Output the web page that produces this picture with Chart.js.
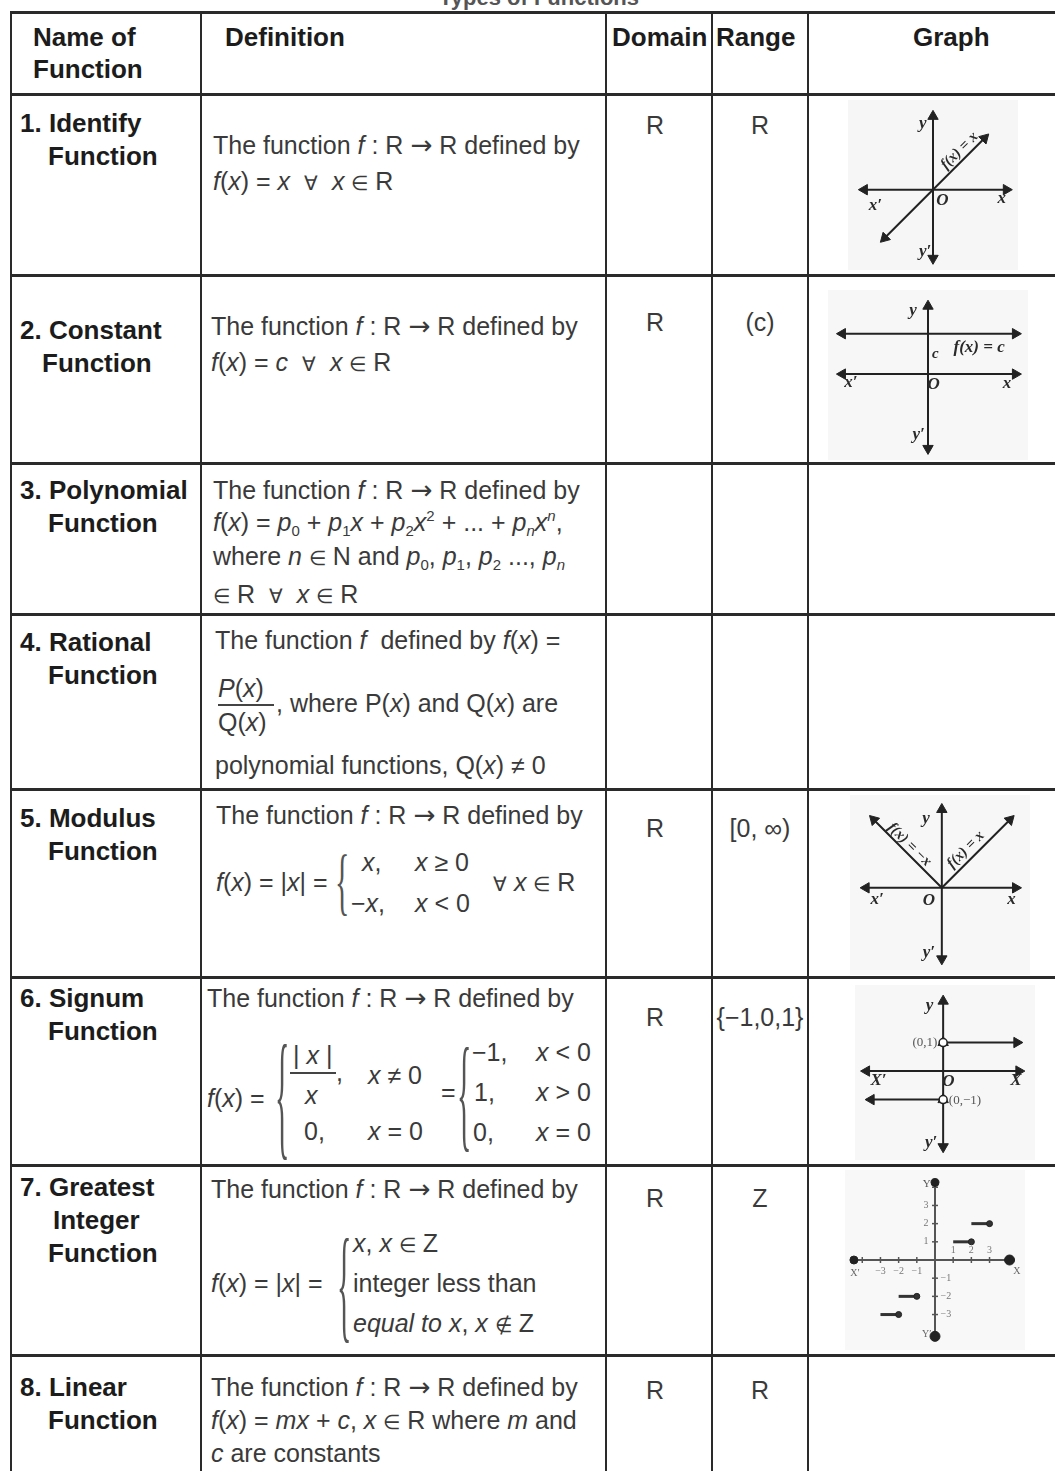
<!DOCTYPE html>
<html>
<head>
<meta charset="utf-8">
<script src="https://cdn.jsdelivr.net/npm/chart.js@4.4.0/dist/chart.umd.min.js"></script>
<style>
body{margin:0;background:#fff;}
#page{position:relative;width:1055px;height:1471px;overflow:hidden;background:#fff;font-family:"Liberation Sans",Arial,sans-serif;}
.t{position:absolute;white-space:nowrap;color:#3a3a3a;font-size:25px;line-height:30px;}
.h{position:absolute;white-space:nowrap;color:#1c1c1c;font-size:26px;font-weight:bold;line-height:30px;}
.c{text-align:center;}
.hl{position:absolute;background:#2a2a2a;height:3px;left:10px;width:1045px;}
.vl{position:absolute;background:#2a2a2a;width:2px;top:11px;height:1460px;}
.bar{position:absolute;background:#444;height:2px;}
.brace{position:absolute;font-family:"Liberation Serif",serif;color:#555;font-size:30px;line-height:30px;}
.ar{font-family:"DejaVu Sans",sans-serif;font-size:1.05em;}
.sm{font-size:0.8em;}
canvas{position:absolute;}
sub{font-size:0.6em;vertical-align:-0.35em;line-height:0;}
sup{font-size:0.6em;vertical-align:0.7em;line-height:0;}
</style>
</head>
<body>
<div id="page">
<div class="h" style="left:0;width:1078px;top:-17px;font-size:22px;text-align:center;color:#555;">Types of Functions</div>
</div>
<script>
// ---------- table content ----------
const headers = ["Name of|Function", "Definition", "Domain", "Range", "Graph"];
const functionNames = [
  ["1. Identify", "Function"],
  ["2. Constant", "Function"],
  ["3. Polynomial", "Function"],
  ["4. Rational", "Function"],
  ["5. Modulus", "Function"],
  ["6. Signum", "Function"],
  ["7. Greatest", "Integer", "Function"],
  ["8. Linear", "Function"]
];
const domains = ["R", "R", "", "", "R", "R", "R", "R"];
const ranges  = ["R", "(c)", "", "", "[0, \u221E)", "{\u22121,0,1}", "Z", "R"];

// ---------- graph data ----------
const identityX = [-3.1, 3.3];
const identityY = [-3.1, 3.3];
const constantX = [-4.6, 4.7];
const constantY = [2.2, 2.2];
const modulusX = [-4.1, 0, 4.1];
const modulusY = [4.1, 0, 4.1];
const signumUpperX = [0, 2.58];
const signumUpperY = [1, 1];
const signumLowerX = [0, -2.52];
const signumLowerY = [-1, -1];
const signumHoleX = [0, 0];
const signumHoleY = [1, -1];
const floorStart = [-3, -2, 1, 2];
const floorEnd   = [-2, -1, 2, 3];
const floorLevel = [-3, -2, 1, 2];
const floorTicksX = [-4, -3, -2, -1, 1, 2, 3];
const floorTicksY = [-3, -2, -1, 1, 2, 3, 4];

// ---------- layout ----------
const page = document.getElementById('page');
function put(x, cy, html, cls, style) {
  const d = document.createElement('div');
  d.className = cls || 't';
  d.style.left = x + 'px';
  d.style.top = (cy - 15) + 'px';
  if (style) d.style.cssText += style;
  d.innerHTML = html;
  page.appendChild(d);
  return d;
}
function box(cls, style) {
  const d = document.createElement('div');
  d.className = cls; d.style.cssText += style; page.appendChild(d);
}
function brace(x, cy, h) {
  const d = document.createElement('div');
  d.className = 'brace';
  d.style.left = x + 'px';
  d.style.top = (cy - 15) + 'px';
  d.style.transform = 'scaleY(' + (h / 27).toFixed(2) + ')';
  d.textContent = '{';
  page.appendChild(d);
}

// grid lines
[11, 93, 274, 462, 613, 788, 976, 1164, 1354].forEach(y => box('hl', 'top:' + y + 'px'));
[10, 200, 605, 711, 807].forEach(x => box('vl', 'left:' + x + 'px'));

// headers
put(33, 37, headers[0].split('|')[0], 'h');
put(33, 69, headers[0].split('|')[1], 'h');
put(225, 37, headers[1], 'h');
put(612, 37, headers[2], 'h');
put(716, 37, headers[3], 'h');
put(913, 37, headers[4], 'h');

// names
const nameTop = [123, 330, 490, 642, 818, 998, 1187, 1387];
const nameIndent = [[20, 48], [20, 42], [20, 48], [20, 48], [20, 48], [20, 48], [20, 53, 48], [20, 48]];
functionNames.forEach((lines, r) => {
  lines.forEach((s, k) => put(nameIndent[r][k], nameTop[r] + k * 33, s, 'h'));
});

// domain / range
const drTop = [125, 322, 0, 0, 828, 1017, 1198, 1390];
domains.forEach((s, r) => { if (s) put(606, drTop[r], s, 't c', 'width:98px;'); });
ranges.forEach((s, r) => { if (s) put(712, drTop[r], s, 't c', 'width:96px;'); });

// definitions
const IN = '<span class="sm">\u2208</span>', NIN = '<span class="sm">\u2209</span>', ALL = '<span class="sm">\u2200</span>';
const L1 = 'The function <i>f</i> : R <span class="ar">\u2192</span> R defined by';
const defs = [
  [213, 145, L1], [213, 181, '<i>f</i>(<i>x</i>) = <i>x</i> &nbsp;' + ALL + ' &nbsp;<i>x</i> ' + IN + ' R'],
  [211, 326, L1], [211, 362, '<i>f</i>(<i>x</i>) = <i>c</i> &nbsp;' + ALL + ' &nbsp;<i>x</i> ' + IN + ' R'],
  [213, 490, L1],
  [213, 522, '<i>f</i>(<i>x</i>) = <i>p</i><sub>0</sub> + <i>p</i><sub>1</sub><i>x</i> + <i>p</i><sub>2</sub><i>x</i><sup>2</sup> + ... + <i>p<sub>n</sub>x<sup>n</sup></i>,'],
  [213, 556, 'where <i>n</i> ' + IN + ' N and <i>p</i><sub>0</sub>, <i>p</i><sub>1</sub>, <i>p</i><sub>2</sub> ..., <i>p<sub>n</sub></i>'],
  [213, 594, IN + ' R &nbsp;' + ALL + ' &nbsp;<i>x</i> ' + IN + ' R'],
  [215, 640, 'The function <i>f</i> &nbsp;defined by <i>f</i>(<i>x</i>) ='],
  [218, 688, '<i>P</i>(<i>x</i>)'], [218, 722, 'Q(<i>x</i>)'],
  [276, 703, ', where P(<i>x</i>) and Q(<i>x</i>) are'],
  [215, 765, 'polynomial functions, Q(<i>x</i>) \u2260 0'],
  [216, 815, L1], [216, 882, '<i>f</i>(<i>x</i>) = |<i>x</i>| ='],
  [362, 862, '<i>x</i>,'], [415, 862, '<i>x</i> \u2265 0'],
  [351, 903, '\u2212<i>x</i>,'], [415, 903, '<i>x</i> &lt; 0'],
  [493, 882, ALL + ' <i>x</i> ' + IN + ' R'],
  [207, 998, L1], [207, 1098, '<i>f</i>(<i>x</i>) ='],
  [293, 1055, '| <i>x</i> |'], [305, 1095, '<i>x</i>'], [336, 1072, ','],
  [368, 1075, '<i>x</i> \u2260 0'], [304, 1131, '0,'], [368, 1131, '<i>x</i> = 0'],
  [441, 1092, '='],
  [472, 1052, '\u22121,'], [474, 1092, '1,'], [473, 1132, '0,'],
  [536, 1052, '<i>x</i> &lt; 0'], [536, 1092, '<i>x</i> &gt; 0'], [536, 1132, '<i>x</i> = 0'],
  [211, 1189, L1], [211, 1283, '<i>f</i>(<i>x</i>) = |<i>x</i>| ='],
  [353, 1243, '<i>x</i>, <i>x</i> ' + IN + ' Z'], [353, 1283, 'integer less than'],
  [353, 1323, '<i>equal to x</i>, <i>x</i> ' + NIN + ' Z'],
  [211, 1387, L1],
  [211, 1420, '<i>f</i>(<i>x</i>) = <i>mx</i> + <i>c</i>, <i>x</i> ' + IN + ' R where <i>m</i> and'],
  [211, 1453, '<i>c</i> are constants']
];
defs.forEach(d => put(d[0], d[1], d[2], 't'));
box('bar', 'left:218px;top:704px;width:56px;');
box('bar', 'left:290px;top:1072px;width:46px;');
brace(335, 882, 66);
brace(275, 1095, 125);
brace(457, 1092, 115);
brace(337, 1283, 115);

// ---------- charts ----------
const INK = '#222';
const pts = (xs, ys) => xs.map((x, i) => ({ x: x, y: ys[i] }));
function lineSet(xs, ys, opt) {
  return Object.assign({
    data: pts(xs, ys), showLine: true, borderColor: INK, borderWidth: 2,
    pointStyle: 'triangle', pointRadius: 0, pointRotation: 0,
    pointBackgroundColor: INK, pointBorderColor: INK, pointBorderWidth: 1, clip: false
  }, opt || {});
}
const labelPlugin = {
  id: 'glabels',
  afterDatasetsDraw(chart, args, opts) {
    const ctx = chart.ctx, sx = chart.scales.x, sy = chart.scales.y;
    (opts.items || []).forEach(it => {
      ctx.save();
      ctx.translate(sx.getPixelForValue(it.x), sy.getPixelForValue(it.y));
      if (it.rot) ctx.rotate(it.rot * Math.PI / 180);
      ctx.font = it.font || 'italic bold 17px "Liberation Serif"';
      ctx.fillStyle = it.color || '#2a2a2a';
      ctx.textAlign = it.align || 'center';
      ctx.textBaseline = 'middle';
      ctx.fillText(it.t, 0, 0);
      ctx.restore();
    });
  }
};
function makeGraph(left, top, w, h, xr, yr, datasets, items, bg) {
  const cv = document.createElement('canvas');
  cv.width = w; cv.height = h;
  cv.style.left = left + 'px'; cv.style.top = top + 'px';
  cv.style.width = w + 'px'; cv.style.height = h + 'px';
  cv.style.background = bg || '#f5f5f5';
  page.appendChild(cv);
  new Chart(cv, {
    type: 'scatter',
    data: { datasets: datasets },
    options: {
      responsive: false, animation: false, events: [],
      layout: { padding: 0 },
      plugins: { legend: { display: false }, tooltip: { enabled: false }, glabels: { items: items } },
      scales: {
        x: { type: 'linear', display: false, min: xr[0], max: xr[1] },
        y: { type: 'linear', display: false, min: yr[0], max: yr[1] }
      }
    },
    plugins: [labelPlugin]
  });
}
const arrowEnds = (r1, r2) => ({ pointRadius: [6, 6], pointRotation: [r1, r2] });
const LBL = 'italic bold 15px "Liberation Serif"';

// 1. identity
makeGraph(848, 100, 170, 170, [-5, 5], [-4.7, 5.3], [
  lineSet([-4.4, 4.7], [0, 0], arrowEnds(270, 90)),
  lineSet([0, 0], [4.7, -4.4], arrowEnds(0, 180)),
  lineSet(identityX, identityY, arrowEnds(225, 45))
], [
  { t: 'y', x: -0.65, y: 4.24 }, { t: 'x\u2032', x: -3.7, y: -1.0 },
  { t: 'O', x: 0.6, y: -0.7 }, { t: 'x', x: 4.4, y: -0.6 },
  { t: 'y\u2032', x: -0.5, y: -4.0 },
  { t: 'f(x) = x', x: 1.7, y: 2.5, rot: -45, font: LBL }
], '#f6f6f6');

// 2. constant
makeGraph(828, 290, 200, 170, [-5, 5], [-4.3, 4.2], [
  lineSet([-4.6, 4.7], [0, 0], arrowEnds(270, 90)),
  lineSet([0, 0], [3.7, -4.05], arrowEnds(0, 180)),
  lineSet(constantX, constantY, arrowEnds(270, 90))
], [
  { t: 'y', x: -0.8, y: 3.45 }, { t: 'c', x: 0.4, y: 1.1, font: LBL },
  { t: 'f(x) = c', x: 2.75, y: 1.45 }, { t: 'x\u2032', x: -4.15, y: -0.45 },
  { t: 'O', x: 0.3, y: -0.6 }, { t: 'x', x: 4.25, y: -0.5 }, { t: 'y\u2032', x: -0.5, y: -3.3 }
], '#f7f7f7');

// 5. modulus
makeGraph(850, 795, 180, 180, [-5.11, 4.89], [-4.83, 5.17], [
  lineSet([-4.56, 4.44], [0, 0], arrowEnds(270, 90)),
  lineSet([0, 0], [4.72, -4.28], arrowEnds(0, 180)),
  lineSet(modulusX, modulusY, { pointRadius: [6, 0, 6], pointRotation: [315, 0, 45] })
], [
  { t: 'y', x: -0.95, y: 4.17 },
  { t: 'f(x) = \u2212x', x: -1.95, y: 2.6, rot: 45, font: LBL },
  { t: 'f(x) = x', x: 1.45, y: 2.3, rot: -45, font: LBL },
  { t: 'x\u2032', x: -3.9, y: -0.7 }, { t: 'O', x: -0.78, y: -0.8 },
  { t: 'x', x: 4.2, y: -0.7 }, { t: 'y\u2032', x: -0.78, y: -3.9 }
], '#f7f7f7');

// 6. signum
makeGraph(855, 985, 180, 175, [-2.84, 2.97], [-2.87, 2.77], [
  { data: pts(signumHoleX, signumHoleY), showLine: false, pointStyle: 'circle', pointRadius: 4, order: -1,
    pointBackgroundColor: '#fff', pointBorderColor: INK, pointBorderWidth: 1.5, clip: false },
  lineSet([-2.68, 2.65], [0, 0], arrowEnds(270, 90)),
  lineSet([0, 0], [2.45, -2.65], arrowEnds(0, 180)),
  lineSet(signumUpperX, signumUpperY, arrowEnds(0, 90)),
  lineSet(signumLowerX, signumLowerY, arrowEnds(0, 270))
], [
  { t: 'y', x: -0.48, y: 2.3 },
  { t: '(0,1)', x: -0.2, y: 1.0, align: 'right', font: '13px "Liberation Serif"', color: '#555' },
  { t: 'X\u2032', x: -2.26, y: -0.35 }, { t: 'O', x: 0.18, y: -0.38 },
  { t: 'X', x: 2.55, y: -0.35 },
  { t: '(0,\u22121)', x: 0.2, y: -1.02, align: 'left', font: '13px "Liberation Serif"', color: '#555' },
  { t: 'y\u2032', x: -0.42, y: -2.5 }
], '#f7f7f7');

// 7. greatest integer
const floorSets = floorStart.map((s, i) => lineSet([s, floorEnd[i]], [floorLevel[i], floorLevel[i]],
  { borderWidth: 3, borderColor: '#333', pointStyle: 'circle', pointRadius: [0, 3], pointBackgroundColor: '#333' }));
makeGraph(845, 1170, 180, 180, [-4.62, 4.62], [-4.62, 4.62], [
  lineSet([-4.46, 4.1], [0, 0], { pointStyle: 'circle', pointRadius: [4, 5], borderColor: '#555' }),
  lineSet([0, 0], [4.26, -4.2], { pointStyle: 'circle', pointRadius: [4, 5], borderColor: '#555' }),
  { data: pts(floorTicksX, floorTicksX.map(() => 0)), showLine: false, pointStyle: 'line', pointRadius: 3,
    pointRotation: 90, borderColor: '#555', pointBorderColor: '#555', pointBorderWidth: 1.5 },
  { data: pts(floorTicksY.map(() => 0), floorTicksY), showLine: false, pointStyle: 'line', pointRadius: 3,
    pointRotation: 0, borderColor: '#555', pointBorderColor: '#555', pointBorderWidth: 1.5 }
].concat(floorSets), [
  { t: 'Y', x: -0.45, y: 4.2, font: '11px "Liberation Serif"', color: '#555' },
  { t: '3', x: -0.5, y: 3, font: '10px "Liberation Serif"', color: '#777' },
  { t: '2', x: -0.5, y: 2, font: '10px "Liberation Serif"', color: '#777' },
  { t: '1', x: -0.5, y: 1, font: '10px "Liberation Serif"', color: '#777' },
  { t: '\u22121', x: 0.6, y: -1, font: '10px "Liberation Serif"', color: '#777' },
  { t: '\u22122', x: 0.6, y: -2, font: '10px "Liberation Serif"', color: '#777' },
  { t: '\u22123', x: 0.6, y: -3, font: '10px "Liberation Serif"', color: '#777' },
  { t: '1', x: 1, y: 0.55, font: '10px "Liberation Serif"', color: '#777' },
  { t: '2', x: 2, y: 0.55, font: '10px "Liberation Serif"', color: '#777' },
  { t: '3', x: 3, y: 0.55, font: '10px "Liberation Serif"', color: '#777' },
  { t: '\u22121', x: -1, y: -0.6, font: '10px "Liberation Serif"', color: '#777' },
  { t: '\u22122', x: -2, y: -0.6, font: '10px "Liberation Serif"', color: '#777' },
  { t: '\u22123', x: -3, y: -0.6, font: '10px "Liberation Serif"', color: '#777' },
  { t: 'X\u2032', x: -4.4, y: -0.75, font: '10px "Liberation Serif"', color: '#666' },
  { t: 'X', x: 4.5, y: -0.65, font: '10px "Liberation Serif"', color: '#666' },
  { t: 'Y\u2032', x: -0.45, y: -4.1, font: '10px "Liberation Serif"', color: '#666' }
], '#f8f8f8');
</script>
</body>
</html>
